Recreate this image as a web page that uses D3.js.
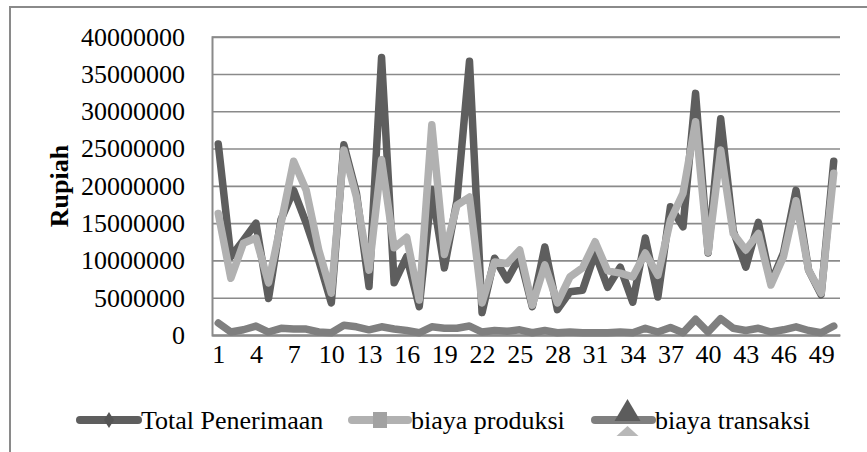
<!DOCTYPE html>
<html>
<head>
<meta charset="utf-8">
<script src="https://cdn.jsdelivr.net/npm/d3@7/dist/d3.min.js"></script>
<style>
  html, body { margin: 0; padding: 0; background: #fff; }
  svg { display: block; }
  text { font-family: "Liberation Serif", "Times New Roman", serif; fill: #000; }
</style>
</head>
<body>
<svg id="chart" width="867" height="452"></svg>
<script>
// Respondent numbers 1..50
const categories = d3.range(1, 51);

// Values in Rupiah
const totalPenerimaan = [
  25600000, 10500000, 12700000, 15000000, 4900000, 15500000, 19400000, 15000000, 10000000, 4300000,
  25500000, 19000000, 6500000, 37200000, 7000000, 10500000, 3800000, 19500000, 9000000, 18000000,
  36700000, 3000000, 10300000, 7400000, 10500000, 3800000, 11800000, 3400000, 5800000, 6000000,
  11000000, 6400000, 9100000, 4400000, 13000000, 5100000, 17200000, 14500000, 32400000, 11000000,
  29000000, 14000000, 9100000, 15100000, 7000000, 11000000, 19400000, 8700000, 5400000, 23300000
];
const biayaProduksi = [
  16300000, 7600000, 12300000, 13000000, 7000000, 15000000, 23300000, 19400000, 11400000, 5600000,
  24800000, 18500000, 8700000, 23500000, 11700000, 13100000, 4700000, 28200000, 10800000, 17400000,
  18500000, 4300000, 9800000, 9600000, 11400000, 4000000, 9400000, 4300000, 7800000, 9000000,
  12500000, 8600000, 8300000, 7800000, 11000000, 8000000, 15400000, 19000000, 28600000, 11100000,
  24800000, 13600000, 11400000, 13600000, 6700000, 10500000, 18000000, 8700000, 5600000, 21700000
];
const biayaTransaksi = [
  1600000, 400000, 700000, 1200000, 400000, 900000, 800000, 800000, 400000, 300000,
  1300000, 1100000, 700000, 1100000, 800000, 600000, 300000, 1100000, 900000, 900000,
  1200000, 400000, 600000, 500000, 700000, 300000, 600000, 300000, 400000, 300000,
  300000, 300000, 400000, 300000, 900000, 400000, 1000000, 300000, 2100000, 400000,
  2200000, 900000, 600000, 900000, 400000, 700000, 1100000, 600000, 300000, 1200000
];

const seriesNames = ["Total Penerimaan", "biaya produksi", "biaya transaksi"];
const seriesColors = ["#5e5e5e", "#b1b1b1", "#7f7f7f"];

const yTicks = [0, 5000000, 10000000, 15000000, 20000000, 25000000, 30000000, 35000000, 40000000];
const xTickLabels = d3.range(1, 51, 3);
const yTitle = "Rupiah";

const FONT = 26;
const svg = d3.select("#chart");

// outer chart frame (left and top edges)
svg.append("path")
  .attr("d", "M10,452V7H867")
  .attr("fill", "none")
  .attr("stroke", "#8a8a8a")
  .attr("stroke-width", 2);

const plot = { left: 212, right: 840, top: 36.7, bottom: 335 };

const x = d3.scalePoint()
  .domain(categories)
  .range([plot.left, plot.right])
  .padding(0.5);

const y = d3.scaleLinear()
  .domain([0, 40000000])
  .range([plot.bottom, plot.top]);

// horizontal gridlines + value labels
const yAxis = d3.axisLeft(y)
  .tickValues(yTicks)
  .tickSize(-(plot.right - plot.left))
  .tickPadding(27)
  .tickFormat(d3.format("d"));

const gy = svg.append("g")
  .attr("transform", `translate(${plot.left},0)`)
  .call(yAxis);
gy.attr("font-family", null).attr("font-size", null);
gy.select(".domain").attr("stroke", "#8a8a8a").attr("stroke-width", 2);
gy.selectAll(".tick line").attr("stroke", "#8a8a8a").attr("stroke-width", 1.6);
gy.selectAll(".tick text")
  .attr("font-size", FONT)
  .attr("fill", "#000");

// category axis labels (every third respondent)
const xAxis = d3.axisBottom(x)
  .tickValues(xTickLabels)
  .tickSize(0)
  .tickPadding(10);
const gx = svg.append("g")
  .attr("transform", `translate(0,${plot.bottom})`)
  .call(xAxis);
gx.attr("font-family", null).attr("font-size", null);
gx.select(".domain").attr("stroke", "#8a8a8a").attr("stroke-width", 2);
gx.selectAll(".tick text")
  .attr("font-size", FONT)
  .attr("fill", "#000");

// y-axis title
svg.append("text")
  .attr("transform", `translate(68,186) rotate(-90)`)
  .attr("text-anchor", "middle")
  .attr("font-size", FONT)
  .attr("font-weight", "bold")
  .text(yTitle);

// series lines
const line = d3.line()
  .x((d, i) => x(categories[i]))
  .y(d => y(d));

const seriesData = [totalPenerimaan, biayaProduksi, biayaTransaksi];
seriesData.forEach((vals, k) => {
  svg.append("path")
    .datum(vals)
    .attr("d", line)
    .attr("fill", "none")
    .attr("stroke", seriesColors[k])
    .attr("stroke-width", 7.5)
    .attr("stroke-linejoin", "round")
    .attr("stroke-linecap", "round");
});

// legend
const legendY = 420;
const legendItems = [
  { x0: 80, x1: 138, text: 141 },
  { x0: 352, x1: 408, text: 411 },
  { x0: 595, x1: 652, text: 655 }
];
legendItems.forEach((it, k) => {
  const g = svg.append("g");
  g.append("line")
    .attr("x1", it.x0).attr("x2", it.x1)
    .attr("y1", legendY).attr("y2", legendY)
    .attr("stroke", seriesColors[k])
    .attr("stroke-width", 8)
    .attr("stroke-linecap", "round");
  const cx = (it.x0 + it.x1) / 2;
  if (k === 0) {
    g.append("path")
      .attr("d", `M${cx},${legendY - 8}L${cx + 5},${legendY}L${cx},${legendY + 8}L${cx - 5},${legendY}Z`)
      .attr("fill", "#555");
  } else if (k === 1) {
    g.append("rect")
      .attr("x", cx - 7).attr("y", legendY - 8)
      .attr("width", 14).attr("height", 16)
      .attr("fill", "#a2a2a2");
  } else {
    g.append("path")
      .attr("d", `M${cx + 4},${legendY + 6}L${cx + 15},${legendY + 16}L${cx - 7},${legendY + 16}Z`)
      .attr("fill", "#9a9a9a").attr("opacity", 0.7);
    g.append("path")
      .attr("d", `M${cx + 4},${legendY - 21}L${cx + 17},${legendY + 1}L${cx - 9},${legendY + 1}Z`)
      .attr("fill", "#5c5c5c");
  }
  g.append("text")
    .attr("x", it.text)
    .attr("y", legendY)
    .attr("dy", "0.35em")
    .attr("font-size", FONT)
    .text(seriesNames[k]);
});
</script>
</body>
</html>
